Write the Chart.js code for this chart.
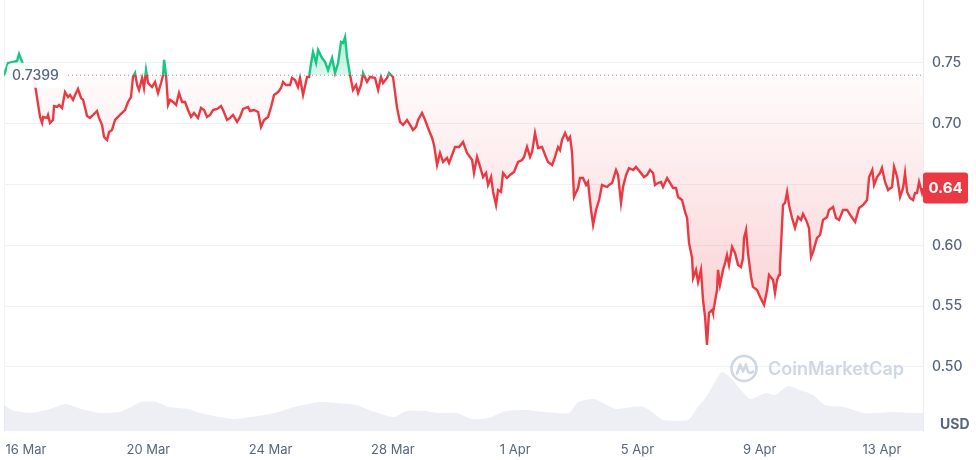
<!DOCTYPE html>
<html>
<head>
<meta charset="utf-8">
<script src="https://cdn.jsdelivr.net/npm/chart.js@4.4.1/dist/chart.umd.min.js"></script>
<style>
html,body{margin:0;padding:0;background:#ffffff;}
#wrap{width:976px;height:460px;position:relative;}
</style>
</head>
<body>
<div id="wrap"><canvas id="c" width="976" height="460"></canvas></div>
<script>
// ---- DATA (hours since 15 Mar 00:00, price in USD) ----
const hours = [
6.7,9.9,13.8,16.9,18.5,20.9,24.0,27.1,30.3,31.1,
35.0,36.6,37.4,40.5,41.3,42.8,45.2,46.0,48.3,49.9,
52.3,54.6,57.0,58.5,60.9,62.5,64.8,67.2,68.8,71.9,
74.2,76.6,79.7,81.3,83.7,85.2,87.6,89.2,91.5,93.9,
96.2,99.4,101.7,104.1,106.4,108.0,109.6,111.2,112.7,115.1,
116.6,118.2,119.8,122.9,125.3,127.6,
130.0,131.6,132.4,133.9,135.5,137.1,139.4,141.8,144.1,146.5,
148.8,151.2,153.5,155.9,159.0,161.4,163.8,166.1,168.5,170.8,
174.0,177.1,178.7,181.8,184.2,186.5,189.7,192.0,194.4,198.3,
199.9,203.0,206.2,208.5,210.9,214.0,216.4,218.7,221.9,224.2,
225.8,228.1,231.3,232.8,235.2,237.5,239.1,241.5,244.6,246.2,
247.8,
249.3,251.7,253.3,256.4,258.8,261.1,264.3,266.6,269.0,271.3,
272.9,274.5,276.0,278.4,280.7,283.1,284.7,287.0,288.6,291.7,
294.1,298.0,300.4,302.7,304.3,307.4,309.0,312.1,315.3,317.6,
320.0,323.1,325.5,327.8,330.2,331.8,334.9,337.3,339.6,342.8,
344.3,346.7,349.0,351.4,354.5,356.1,358.5,360.8,364.0,367.1,
370.2,
374.2,375.7,378.1,380.5,382.8,385.2,386.7,389.1,390.7,393.0,
394.6,396.9,398.5,401.6,404.0,407.1,410.3,413.4,415.0,417.3,
419.7,421.3,423.6,426.0,429.1,431.5,433.8,437.0,438.5,441.7,
443.2,444.8,447.2,449.5,451.1,452.7,454.2,457.4,458.9,461.3,
463.7,465.2,467.6,469.2,471.5,473.9,476.2,480.1,481.7,484.1,
487.2,488.8,491.1,
492.7,495.1,497.4,500.6,502.9,506.1,509.2,511.6,513.9,516.3,
517.8,520.2,522.5,524.1,527.3,529.6,532.0,534.3,535.9,539.0,
541.4,543.0,544.5,546.9,547.7,550.0,551.6,553.9,555.5,557.1,
558.6,560.2,562.6,563.3,566.5,567.3,568.8,571.2,572.8,574.3,
575.9,578.3,580.6,583.0,585.3,586.9,587.7,589.3,590.8,593.2,
594.7,597.9,600.3,603.4,605.8,607.3,610.5,612.0,613.6,615.2,
615.9,618.3,619.9,621.5,623.0,625.4,627.7,630.1,632.5,634.0,
636.4,638.7,640.3,641.9,645.0,647.4,649.7,652.9,654.4,657.6,
659.9,662.3,665.4,668.6,671.0,674.9,678.0,681.2,684.3,685.9,
688.4,689.8,692.1,694.5,696.0,698.4,700.8,703.9,705.5,707.9,
710.2,712.6,714.1,715.7,718.0,720.4,722.0,723.5,725.1,727.4,
728.2
];
const prices = [
0.7401,0.7500,0.7508,0.7516,0.7574,0.7508,0.7459,0.7426,0.7360,0.7319,
0.7056,0.7007,0.7056,0.7048,0.7072,0.7007,0.7031,0.7146,0.7138,0.7155,
0.7130,0.7261,0.7220,0.7237,0.7196,0.7237,0.7286,0.7212,0.7196,0.7064,
0.7048,0.7072,0.7105,0.7048,0.6990,0.6891,0.6867,0.6932,0.6949,0.7031,
0.7056,0.7089,0.7113,0.7179,0.7220,0.7385,0.7418,0.7319,0.7278,0.7377,
0.7294,0.7442,0.7335,0.7302,0.7344,0.7253,
0.7335,0.7401,0.7525,0.7401,0.7155,0.7196,0.7179,0.7155,0.7253,0.7179,
0.7179,0.7113,0.7056,0.7089,0.7048,0.7130,0.7113,0.7056,0.7072,0.7113,
0.7122,0.7146,0.7113,0.7031,0.7048,0.7072,0.7015,0.7056,0.7122,0.7138,
0.7105,0.7113,0.7097,0.6974,0.7031,0.7056,0.7138,0.7237,0.7261,0.7294,
0.7344,0.7319,0.7319,0.7377,0.7360,0.7302,0.7377,0.7237,0.7385,0.7385,
0.7500,
0.7590,0.7500,0.7607,0.7541,0.7508,0.7442,0.7541,0.7418,0.7500,0.7673,
0.7664,0.7714,0.7549,0.7401,0.7278,0.7319,0.7253,0.7319,0.7418,0.7344,
0.7385,0.7377,0.7278,0.7385,0.7335,0.7377,0.7418,0.7385,0.7130,0.7015,
0.6990,0.7031,0.6990,0.6949,0.6974,0.7031,0.7089,0.7031,0.6965,0.6883,
0.6826,0.6661,0.6760,0.6686,0.6719,0.6678,0.6743,0.6809,0.6809,0.6850,
0.6760,
0.6702,0.6595,0.6727,0.6645,0.6562,0.6595,0.6497,0.6562,0.6439,0.6332,
0.6455,0.6439,0.6595,0.6554,0.6579,0.6603,0.6686,0.6702,0.6727,0.6809,
0.6727,0.6768,0.6924,0.6801,0.6809,0.6743,0.6686,0.6661,0.6702,0.6809,
0.6784,0.6867,0.6924,0.6867,0.6891,0.6760,0.6398,0.6472,0.6554,0.6554,
0.6497,0.6521,0.6291,0.6168,0.6291,0.6373,0.6497,0.6480,0.6497,0.6513,
0.6620,0.6579,0.6349,
0.6480,0.6579,0.6636,0.6620,0.6645,0.6603,0.6562,0.6579,0.6620,0.6595,
0.6497,0.6513,0.6521,0.6480,0.6554,0.6513,0.6472,0.6472,0.6398,0.6373,
0.6275,0.6225,0.6020,0.5896,0.5732,0.5798,0.5699,0.5798,0.5551,0.5411,
0.5181,0.5444,0.5469,0.5444,0.5633,0.5798,0.5674,0.5798,0.5855,0.5921,
0.5839,0.5987,0.5937,0.5839,0.5822,0.5896,0.6061,0.6127,0.5937,0.5740,
0.5658,0.5633,0.5575,0.5510,0.5633,0.5757,0.5715,0.5608,0.5715,0.5757,
0.5822,0.6332,0.6349,0.6439,0.6332,0.6225,0.6143,0.6233,0.6209,0.6258,
0.6209,0.6143,0.5904,0.5946,0.6061,0.6085,0.6209,0.6233,0.6291,0.6316,
0.6225,0.6209,0.6291,0.6291,0.6250,0.6192,0.6307,0.6332,0.6373,0.6562,
0.6620,0.6497,0.6562,0.6595,0.6636,0.6521,0.6455,0.6480,0.6645,0.6562,
0.6398,0.6472,0.6595,0.6439,0.6390,0.6373,0.6431,0.6431,0.6521,0.6431,
0.6472
];
// volume (millions USD), hours since 15 Mar 00:00
const volHours = [
6.7,13.0,27.9,42.8,55.4,67.2,82.1,97.0,106.4,114.3,
126.1,136.3,151.2,160.6,175.5,187.3,199.9,219.5,234.4,254.0,
269.0,283.1,298.0,312.9,322.4,337.3,347.5,361.6,374.2,386.7,
400.9,415.8,430.7,450.3,457.4,469.9,477.0,487.2,499.0,509.2,
518.6,524.1,543.8,550.8,557.9,565.7,570.4,577.5,585.3,592.4,
604.9,612.0,622.3,631.7,641.9,651.3,666.2,681.2,690.5,705.5,
720.4,728.2
];
const volumes = [
52,42,36,44,54,44,36,38,48,58,
58,48,44,36,28,24,28,36,48,58,
56,52,38,28,40,40,36,36,24,26,
40,42,38,36,58,64,56,44,48,48,
32,22,22,46,68,102,118,106,82,64,
76,72,90,82,72,52,48,36,36,38,
36,36
];
const baseline = 0.7399;
const tickHours = [24,120,216,312,408,504,600,696];
const tickLabels = ['16 Mar','20 Mar','24 Mar','28 Mar','1 Apr','5 Apr','9 Apr','13 Apr'];
const priceTicks = [0.50,0.55,0.60,0.65,0.70,0.75];
const currencyLabel = 'USD';
const brand = 'CoinMarketCap';

// ---- STYLE ----
const GREEN = '#16c784';
const RED = '#ea3943';
const TEXT = '#58667e';
const GRID = '#eff2f5';
Chart.defaults.font.family = 'Inter, "Noto Sans", sans-serif';

function baseFrac(chart){
  const {chartArea, scales} = chart;
  const yb = scales.y.getPixelForValue(baseline);
  return Math.min(Math.max((yb - chartArea.top)/(chartArea.bottom - chartArea.top), 0), 1);
}
function lineGrad(c){
  const chart = c.chart;
  if (!chart.chartArea) return RED;
  const {ctx, chartArea} = chart;
  const f = baseFrac(chart);
  const g = ctx.createLinearGradient(0, chartArea.top, 0, chartArea.bottom);
  g.addColorStop(0, GREEN); g.addColorStop(f, GREEN);
  g.addColorStop(f, RED); g.addColorStop(1, RED);
  return g;
}
function fillGrad(c){
  const chart = c.chart;
  if (!chart.chartArea) return 'rgba(234,57,67,0.1)';
  const {ctx, chartArea} = chart;
  const f = baseFrac(chart);
  const g = ctx.createLinearGradient(0, chartArea.top, 0, chartArea.bottom);
  g.addColorStop(0, 'rgba(22,199,132,0.5)');
  g.addColorStop(f, 'rgba(22,199,132,0.15)');
  g.addColorStop(f, 'rgba(234,57,67,0.02)');
  g.addColorStop(1, 'rgba(234,57,67,0.32)');
  return g;
}

function rr(ctx, x, y, w, h, r){
  ctx.beginPath();
  ctx.moveTo(x+r, y);
  ctx.lineTo(x+w-r, y); ctx.quadraticCurveTo(x+w, y, x+w, y+r);
  ctx.lineTo(x+w, y+h-r); ctx.quadraticCurveTo(x+w, y+h, x+w-r, y+h);
  ctx.lineTo(x+r, y+h); ctx.quadraticCurveTo(x, y+h, x, y+h-r);
  ctx.lineTo(x, y+r); ctx.quadraticCurveTo(x, y, x+r, y);
  ctx.closePath();
}

const overlay = {
  id: 'overlay',
  afterDatasetsDraw(chart){
    const {ctx, chartArea, scales} = chart;
    const y = scales.y;
    // watermark
    ctx.save();
    const wx = chartArea.right - 179, wy = y.getPixelForValue(0.4995) + 1;
    ctx.strokeStyle = '#cfd6e4';
    ctx.lineWidth = 2.6;
    ctx.beginPath(); ctx.arc(wx, wy, 12.5, 0, Math.PI*2); ctx.stroke();
    ctx.beginPath();
    ctx.lineJoin = 'round'; ctx.lineCap = 'round';
    ctx.moveTo(wx-7, wy+5);
    ctx.lineTo(wx-4, wy-4);
    ctx.lineTo(wx-1, wy+3);
    ctx.lineTo(wx+2, wy-4);
    ctx.lineTo(wx+4, wy+3);
    ctx.quadraticCurveTo(wx+6, wy+6, wx+9, wy+3);
    ctx.stroke();
    ctx.fillStyle = '#cfd6e4';
    ctx.font = '600 18px Inter';
    ctx.textBaseline = 'middle';
    ctx.textAlign = 'left';
    ctx.fillText(brand, wx + 24, wy + 1);
    ctx.restore();

    // baseline label
    const yb = y.getPixelForValue(baseline);
    ctx.save();
    ctx.font = '500 14px Inter';
    const txt = baseline.toFixed(4);
    const w = ctx.measureText(txt).width;
    const bx = chartArea.left + 3, bw = w + 12, bh = 25;
    ctx.fillStyle = 'rgba(255,255,255,0.92)';
    rr(ctx, bx, yb - bh/2, bw, bh, 6);
    ctx.fill();
    ctx.fillStyle = TEXT;
    ctx.textBaseline = 'middle';
    ctx.textAlign = 'left';
    ctx.fillText(txt, bx + 5, yb + 1);
    ctx.restore();
  },
  afterDraw(chart){
    const {ctx, chartArea, scales} = chart;
    const y = scales.y;
    const last = prices[prices.length - 1];
    const ly = y.getPixelForValue(last);
    ctx.save();
    ctx.fillStyle = RED;
    rr(ctx, chartArea.right, ly - 15.5, 45, 31, 3);
    ctx.fill();
    ctx.fillStyle = '#ffffff';
    ctx.font = '700 15px Inter';
    ctx.textAlign = 'center';
    ctx.textBaseline = 'middle';
    ctx.fillText((Math.floor(last*100)/100).toFixed(2), chartArea.right + 22.5, ly + 1);
    // currency label
    ctx.fillStyle = TEXT;
    ctx.font = '700 14px Inter';
    ctx.textAlign = 'left';
    ctx.fillText(currencyLabel, chartArea.right + 17, chartArea.bottom - 6);
    ctx.restore();
  }
};

const priceData = hours.map((h, i) => ({x: h, y: prices[i]}));
const volData = volHours.map((h, i) => ({x: h, y: volumes[i]}));
const baseData = [{x: hours[0], y: baseline}, {x: hours[hours.length-1], y: baseline}];

function noPad(s){ s.paddingTop = 0; s.paddingBottom = 0; s.paddingLeft = 0; s.paddingRight = 0; }

new Chart(document.getElementById('c'), {
  type: 'line',
  data: {
    datasets: [
      {
        data: priceData,
        yAxisID: 'y',
        order: 0,
        borderColor: lineGrad,
        backgroundColor: fillGrad,
        borderWidth: 2.4,
        pointRadius: 0,
        tension: 0,
        fill: {target: {value: baseline}}
      },
      {
        data: baseData,
        yAxisID: 'y',
        order: -1,
        borderColor: '#8f99ab',
        borderWidth: 1,
        borderDash: [1, 3],
        pointRadius: 0,
        fill: false
      },
      {
        data: volData,
        yAxisID: 'yv',
        order: 2,
        borderWidth: 0,
        borderColor: 'rgba(0,0,0,0)',
        backgroundColor: 'rgba(207,214,228,0.38)',
        pointRadius: 0,
        tension: 0.2,
        fill: 'origin'
      }
    ]
  },
  options: {
    responsive: false,
    animation: false,
    events: [],
    layout: {padding: 0},
    plugins: {legend: {display: false}, tooltip: {enabled: false}},
    scales: {
      x: {
        type: 'linear',
        min: hours[0],
        max: hours[hours.length-1],
        grid: {display: false, drawTicks: false},
        border: {display: false},
        afterBuildTicks: s => { s.ticks = tickHours.map(v => ({value: v})); },
        afterFit: s => { s.height = 29; noPad(s); },
        ticks: {
          autoSkip: false,
          maxRotation: 0,
          padding: 11,
          color: TEXT,
          font: {size: 13, weight: '400'},
          callback: v => { const i = tickHours.indexOf(v); return i >= 0 ? tickLabels[i] : ''; }
        }
      },
      y: {
        type: 'linear',
        position: 'right',
        min: 0.4473,
        max: 0.8018,
        grid: {color: GRID, drawTicks: false, lineWidth: 1},
        border: {display: true, color: '#e9ecf0'},
        afterBuildTicks: s => { s.ticks = priceTicks.map(v => ({value: v})); },
        afterFit: s => { s.width = 53; noPad(s); },
        ticks: {
          padding: 9,
          color: TEXT,
          font: {size: 14, weight: '500'},
          callback: v => Number(v).toFixed(2)
        }
      },
      yv: {
        type: 'linear',
        position: 'left',
        min: 0,
        max: 862,
        grid: {display: false, drawTicks: false},
        border: {display: true, color: '#f1f3f6'},
        ticks: {display: false},
        afterFit: s => { s.width = 4; noPad(s); }
      }
    }
  },
  plugins: [overlay]
});
</script>
</body>
</html>
